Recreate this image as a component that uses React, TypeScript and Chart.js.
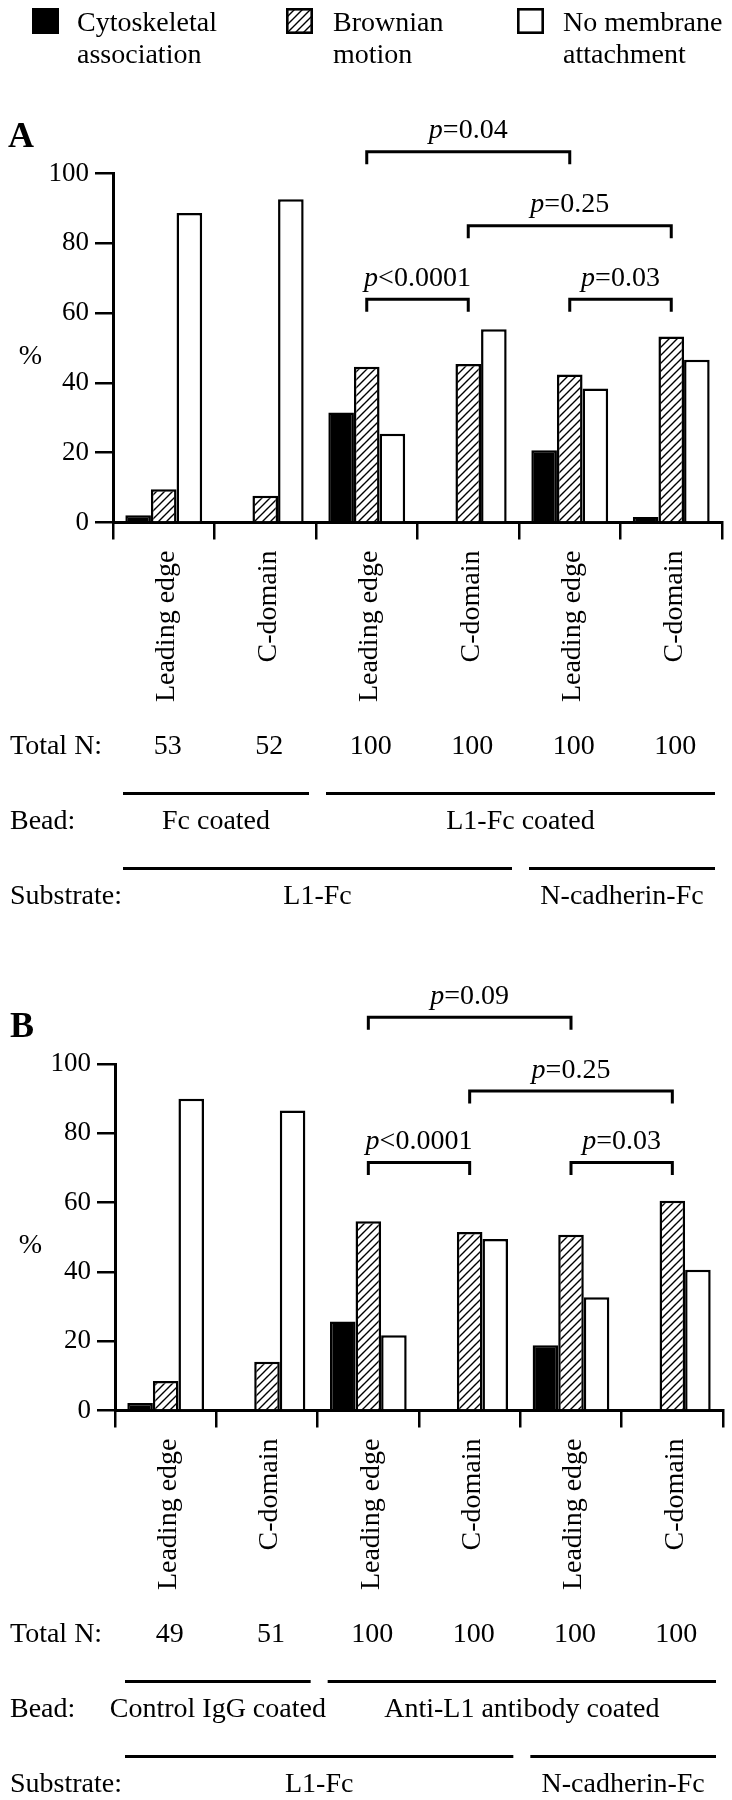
import React, { useEffect, useRef } from 'react';
import { Chart, registerables } from 'chart.js';

Chart.register(...registerables);

const SERIF = '"Liberation Serif", "Times New Roman", Times, serif';

// ---------- data ----------
const categories = ['Leading edge', 'C-domain', 'Leading edge', 'C-domain', 'Leading edge', 'C-domain'];
const seriesNames = ['Cytoskeletal association', 'Brownian motion', 'No membrane attachment'];
const legendLines = [
  ['Cytoskeletal', 'association'],
  ['Brownian', 'motion'],
  ['No membrane', 'attachment'],
];
const yTickValues = [0, 20, 40, 60, 80, 100];

// Panel A
const cytoA = [2.1, 0, 31.5, 0, 20.7, 1.6];
const brownA = [9.5, 7.7, 44.6, 45.4, 42.4, 53.3];
const noMemA = [88.7, 92.6, 25.4, 55.4, 38.4, 46.6];
const totalNA = ['53', '52', '100', '100', '100', '100'];
const beadLabelsA = ['Fc coated', 'L1-Fc coated'];
const bracketFromA = [2, 3, 2, 4];
const bracketToA = [4, 5, 3, 5];
const bracketLevelA = [106.2, 85.0, 64.0, 64.0];
const bracketTextA = ['=0.04', '=0.25', '<0.0001', '=0.03'];

// Panel B
const cytoB = [2.2, 0, 25.7, 0, 18.8, 0];
const brownB = [8.5, 14.1, 54.6, 51.5, 50.7, 60.5];
const noMemB = [90.0, 86.6, 21.7, 49.5, 32.7, 40.6];
const totalNB = ['49', '51', '100', '100', '100', '100'];
const beadLabelsB = ['Control IgG coated', 'Anti-L1 antibody coated'];
const bracketFromB = [2, 3, 2, 4];
const bracketToB = [4, 5, 3, 5];
const bracketLevelB = [113.5, 92.2, 71.6, 71.6];
const bracketTextB = ['=0.09', '=0.25', '<0.0001', '=0.03'];

// shared grouping rows
const beadSpans = [[0, 1], [2, 5]];
const substrateLabels = ['L1-Fc', 'N-cadherin-Fc'];
const substrateSpans = [[0, 3], [4, 5]];

// ---------- helpers ----------
function makeHatch(): CanvasPattern | string {
  const c = document.createElement('canvas');
  c.width = 8;
  c.height = 8;
  const g = c.getContext('2d');
  if (!g) return '#888';
  g.fillStyle = '#fff';
  g.fillRect(0, 0, 8, 8);
  g.strokeStyle = '#000';
  g.lineWidth = 1.4;
  g.beginPath();
  g.moveTo(-2, 10);
  g.lineTo(10, -2);
  g.moveTo(-2, 2);
  g.lineTo(2, -2);
  g.moveTo(6, 10);
  g.lineTo(10, 6);
  g.stroke();
  return g.createPattern(c, 'repeat') || '#888';
}

function drawPText(ctx: CanvasRenderingContext2D, rest: string, cx: number, baseline: number) {
  ctx.font = `italic 28px ${SERIF}`;
  const wp = ctx.measureText('p').width;
  ctx.font = `28px ${SERIF}`;
  const wr = ctx.measureText(rest).width;
  const x0 = cx - (wp + wr) / 2;
  ctx.textAlign = 'left';
  ctx.textBaseline = 'alphabetic';
  ctx.font = `italic 28px ${SERIF}`;
  ctx.fillText('p', x0, baseline);
  ctx.font = `28px ${SERIF}`;
  ctx.fillText(rest, x0 + wp, baseline);
}

interface PanelCfg {
  letter: string;
  letterX: number;
  letterBaseline: number;
  showLegend: boolean;
  cyto: number[];
  brown: number[];
  noMem: number[];
  totalN: string[];
  beadLabels: string[];
  from: number[];
  to: number[];
  level: number[];
  ptext: string[];
  padTop: number;
  padRight: number;
  padBottom: number;
  yAxisWidth: number;
}

const CANVAS_A_H = 930;
const CANVAS_B_H = 900;

const panelA: PanelCfg = {
  letter: 'A', letterX: 8, letterBaseline: 147, showLegend: true,
  cyto: cytoA, brown: brownA, noMem: noMemA, totalN: totalNA, beadLabels: beadLabelsA,
  from: bracketFromA, to: bracketToA, level: bracketLevelA, ptext: bracketTextA,
  padTop: 173.5, padRight: 10, padBottom: CANVAS_A_H - 522.5 - 200, yAxisWidth: 113,
};

const panelB: PanelCfg = {
  letter: 'B', letterX: 10, letterBaseline: 136.5, showLegend: false,
  cyto: cytoB, brown: brownB, noMem: noMemB, totalN: totalNB, beadLabels: beadLabelsB,
  from: bracketFromB, to: bracketToB, level: bracketLevelB, ptext: bracketTextB,
  padTop: 164, padRight: 9, padBottom: CANVAS_B_H - 510.5 - 200, yAxisWidth: 115,
};

function makeOverlay(cfg: PanelCfg, hatch: CanvasPattern | string) {
  return {
    id: 'overlay' + cfg.letter,
    afterDraw(chart: any) {
      const ctx: CanvasRenderingContext2D = chart.ctx;
      const xs = chart.scales.x;
      const ys = chart.scales.y;
      const area = chart.chartArea;
      const catW = (area.right - area.left) / categories.length;
      const cx = (i: number) => xs.getPixelForTick(i);
      ctx.save();
      ctx.fillStyle = '#000';
      ctx.strokeStyle = '#000';

      // legend
      if (cfg.showLegend) {
        const boxX = [32, 286, 517];
        const textX = [77, 333, 563];
        for (let i = 0; i < 3; i++) {
          const bx = boxX[i];
          const by = 8;
          if (i === 0) {
            ctx.fillStyle = '#000';
            ctx.fillRect(bx, by, 27, 26);
          } else {
            ctx.fillStyle = i === 1 ? (hatch as any) : '#fff';
            ctx.fillRect(bx, by, 27, 26);
            ctx.lineWidth = 2.6;
            ctx.strokeRect(bx + 1.3, by + 1.3, 27 - 2.6, 26 - 2.6);
          }
          ctx.fillStyle = '#000';
          ctx.font = `28px ${SERIF}`;
          ctx.textAlign = 'left';
          ctx.textBaseline = 'alphabetic';
          ctx.fillText(legendLines[i][0], textX[i], 31);
          ctx.fillText(legendLines[i][1], textX[i], 63);
        }
      }

      // panel letter
      ctx.fillStyle = '#000';
      ctx.font = `bold 36px ${SERIF}`;
      ctx.textAlign = 'left';
      ctx.textBaseline = 'alphabetic';
      ctx.fillText(cfg.letter, cfg.letterX, cfg.letterBaseline);

      // % axis title
      ctx.font = `28px ${SERIF}`;
      ctx.textAlign = 'center';
      ctx.textBaseline = 'middle';
      ctx.fillText('%', 30.5, ys.getPixelForValue(47.5));

      // brackets
      ctx.lineWidth = 3;
      ctx.lineCap = 'butt';
      ctx.lineJoin = 'miter';
      for (let i = 0; i < cfg.from.length; i++) {
        const x1 = cx(cfg.from[i]);
        const x2 = cx(cfg.to[i]);
        const yb = ys.getPixelForValue(cfg.level[i]);
        ctx.beginPath();
        ctx.moveTo(x1, yb + 12.5);
        ctx.lineTo(x1, yb);
        ctx.lineTo(x2, yb);
        ctx.lineTo(x2, yb + 12.5);
        ctx.stroke();
        drawPText(ctx, cfg.ptext[i], (x1 + x2) / 2, yb - 13.5);
      }

      // Total N row
      const bottom = area.bottom;
      ctx.font = `28px ${SERIF}`;
      ctx.textBaseline = 'alphabetic';
      ctx.textAlign = 'left';
      ctx.fillText('Total N:', 10, bottom + 231);
      ctx.textAlign = 'center';
      for (let i = 0; i < cfg.totalN.length; i++) {
        ctx.fillText(cfg.totalN[i], cx(i) + 4, bottom + 231);
      }

      // grouping rows
      const seg = (s: number[]) => {
        const l = area.left + s[0] * catW + 10;
        const r = area.left + (s[1] + 1) * catW - 7;
        return [l, r];
      };
      const drawRow = (title: string, labels: string[], spans: number[][], lineY: number, textY: number) => {
        ctx.lineWidth = 3;
        ctx.textAlign = 'left';
        ctx.fillText(title, 10, textY);
        ctx.textAlign = 'center';
        for (let i = 0; i < spans.length; i++) {
          const [l, r] = seg(spans[i]);
          ctx.beginPath();
          ctx.moveTo(l, lineY);
          ctx.lineTo(r, lineY);
          ctx.stroke();
          ctx.fillText(labels[i], (l + r) / 2, textY);
        }
      };
      drawRow('Bead:', cfg.beadLabels, beadSpans, bottom + 271, bottom + 306.5);
      drawRow('Substrate:', substrateLabels, substrateSpans, bottom + 346, bottom + 381);

      ctx.restore();
    },
  };
}

function buildChart(canvas: HTMLCanvasElement, cfg: PanelCfg) {
  const hatch = makeHatch();
  const ds = (label: string, data: number[], bg: any) => ({
    label,
    data,
    backgroundColor: bg,
    borderColor: '#000',
    borderWidth: 2.5,
    borderSkipped: 'start' as const,
  });
  return new Chart(canvas, {
    type: 'bar',
    data: {
      labels: categories,
      datasets: [
        ds(seriesNames[0], cfg.cyto, '#000'),
        ds(seriesNames[1], cfg.brown, hatch),
        ds(seriesNames[2], cfg.noMem, '#fff'),
      ],
    },
    options: {
      responsive: false,
      animation: false,
      devicePixelRatio: 1,
      layout: {
        autoPadding: false,
        padding: { left: 0, top: cfg.padTop, right: cfg.padRight, bottom: cfg.padBottom },
      },
      datasets: {
        bar: { categoryPercentage: 0.757, barPercentage: 1.0 },
      },
      plugins: {
        legend: { display: false },
        tooltip: { enabled: false },
        title: { display: false },
      },
      scales: {
        x: {
          afterFit: (s: any) => { s.height = 200; },
          grid: {
            display: true,
            drawOnChartArea: false,
            drawTicks: true,
            tickLength: 17,
            color: '#000',
            lineWidth: 2.5,
            offset: true,
          },
          border: { display: true, color: '#000', width: 3 },
          ticks: {
            autoSkip: false,
            minRotation: 90,
            maxRotation: 90,
            padding: 11,
            labelOffset: 3,
            color: '#000',
            font: { family: SERIF, size: 28 },
          },
        },
        y: {
          min: 0,
          max: 100,
          afterFit: (s: any) => { s.width = cfg.yAxisWidth; },
          afterBuildTicks: (s: any) => { s.ticks = yTickValues.map((v) => ({ value: v })); },
          grid: {
            display: true,
            drawOnChartArea: false,
            drawTicks: true,
            tickLength: 18,
            color: '#000',
            lineWidth: 2.5,
          },
          border: { display: true, color: '#000', width: 3 },
          ticks: {
            padding: 6,
            color: '#000',
            font: { family: SERIF, size: 27 },
          },
        },
      },
    },
    plugins: [makeOverlay(cfg, hatch)],
  } as any);
}

export default function App() {
  const refA = useRef<HTMLCanvasElement>(null);
  const refB = useRef<HTMLCanvasElement>(null);

  useEffect(() => {
    const charts: Chart[] = [];
    if (refA.current) charts.push(buildChart(refA.current, panelA));
    if (refB.current) charts.push(buildChart(refB.current, panelB));
    return () => charts.forEach((c) => c.destroy());
  }, []);

  return (
    <div style={{ position: 'absolute', left: 0, top: 0, width: 732, height: 1800, background: '#fff' }}>
      <canvas ref={refA} width={732} height={CANVAS_A_H} style={{ position: 'absolute', left: 0, top: 0, width: 732, height: CANVAS_A_H }} />
      <canvas ref={refB} width={732} height={CANVAS_B_H} style={{ position: 'absolute', left: 0, top: 900, width: 732, height: CANVAS_B_H }} />
    </div>
  );
}
